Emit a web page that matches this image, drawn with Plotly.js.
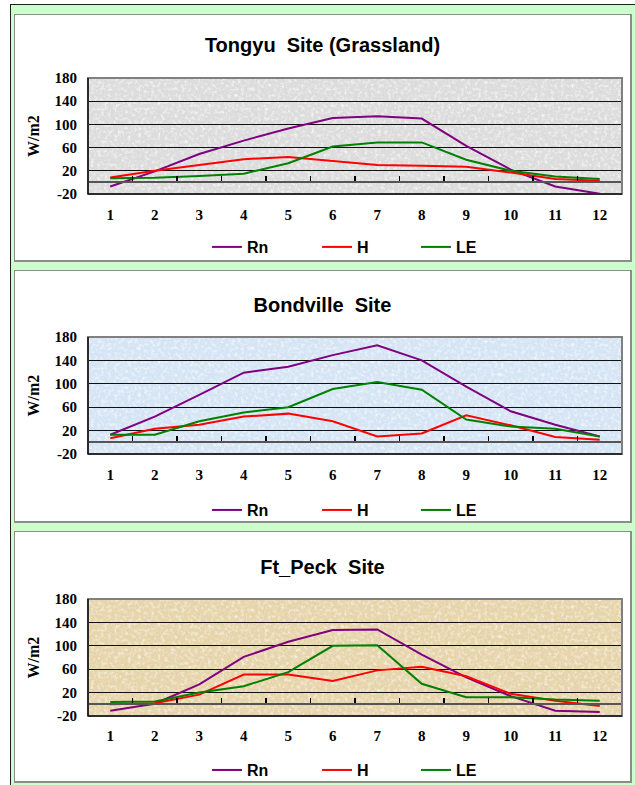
<!DOCTYPE html>
<html><head><meta charset="utf-8">
<script src="https://cdn.plot.ly/plotly-3.0.1.min.js"></script>
<style>
html,body{margin:0;padding:0;background:#fff;width:635px;height:785px;overflow:hidden;}
#frame{position:absolute;left:10px;top:4px;width:625px;height:781px;background:#ccffcc;border-left:1px solid #1e1e1e;border-top:1px solid #1e1e1e;box-sizing:border-box;}
.panel{position:absolute;left:14px;width:618px;box-sizing:border-box;background:#fff;border:1px solid #8c8c8c;border-right:2px solid #8c8c8c;border-bottom:2px solid #8c8c8c;}
.plot{position:absolute;left:0;top:0;}
</style></head><body>
<div id="frame"></div>
<div class="panel" style="top:14px;height:248px"><div class="plot" id="c1"></div></div>
<div class="panel" style="top:270px;height:253px"><div class="plot" id="c2"></div></div>
<div class="panel" style="top:531px;height:252px"><div class="plot" id="c3"></div></div>
<script>
// ---- data ----
const months = ['1','2','3','4','5','6','7','8','9','10','11','12'];
const seriesNames = ['Rn', 'H', 'LE'];
const yTicks = [-20, 20, 60, 100, 140, 180];

const tongyuTitle = 'Tongyu\u00a0\u00a0Site (Grassland)';
const tongyuRn = [-7, 19, 49, 72, 93, 111, 114, 110, 63, 22, -7, -19.5];
const tongyuH  = [8.5, 20, 30, 40, 44, 37, 30, 28.5, 27, 17, 6, 3];
const tongyuLE = [7, 8, 11, 15, 33, 62, 69, 69, 39, 20, 10, 6];

const bondTitle = 'Bondville\u00a0\u00a0Site';
const bondRn = [13, 44, 81, 119, 129, 149, 166, 140, 95, 53, 30, 10];
const bondH  = [7, 23, 30, 44, 49, 36, 10, 15, 46, 29, 9, 4.5];
const bondLE = [13, 13, 36, 51, 60, 91, 103, 90, 39, 27, 23, 10];

const peckTitle = 'Ft_Peck\u00a0\u00a0Site';
const peckRn = [-11, 1, 34, 81, 107, 127, 128, 85, 46, 14, -11, -13];
const peckH  = [0, 2, 16.5, 51, 51, 40, 58, 64, 48, 18, 6, -3];
const peckLE = [4, 5, 20, 31, 55, 100, 101, 35, 12, 12, 8, 6];

// ---- style ----
const lineColors = ['#800080', '#ff0000', '#008000'];
const legendIds = ['legend', 'legend2', 'legend3'];
const legendX = [0.2228, 0.4288, 0.6142];

function texture(base, light, dark) {
  const c = h => [1,3,5].map(i => (parseInt(h.substr(i,2),16)/255).toFixed(3));
  const L = c(light), D = c(dark);
  const svg = "<svg xmlns='http://www.w3.org/2000/svg' width='534' height='117'>" +
    "<filter id='a' x='0' y='0' width='100%' height='100%'><feTurbulence type='fractalNoise' baseFrequency='0.3' numOctaves='4' seed='3'/>" +
    "<feColorMatrix type='matrix' values='0 0 0 0 " + L[0] + " 0 0 0 0 " + L[1] + " 0 0 0 0 " + L[2] + " 2.2 0 0 0 -1.0'/></filter>" +
    "<filter id='b' x='0' y='0' width='100%' height='100%'><feTurbulence type='fractalNoise' baseFrequency='0.9' numOctaves='2' seed='7'/>" +
    "<feColorMatrix type='matrix' values='0 0 0 0 " + D[0] + " 0 0 0 0 " + D[1] + " 0 0 0 0 " + D[2] + " 0 2.4 0 0 -1.15'/></filter>" +
    "<rect width='534' height='117' fill='" + base + "'/>" +
    "<rect width='534' height='117' filter='url(#a)'/>" +
    "<rect width='534' height='117' filter='url(#b)'/></svg>";
  return 'data:image/svg+xml;charset=utf-8,' + encodeURIComponent(svg);
}

const tickFont = {family: 'Liberation Serif, Times New Roman, serif', size: 15, weight: 'bold', color: '#000'};

function makeChart(id, title, rn, h, le, opt) {
  const vals = [rn, h, le];
  const traces = seriesNames.map((n, i) => ({
    type: 'scatter', mode: 'lines', name: n, x: months, y: vals[i],
    line: {color: lineColors[i], width: 2}, legend: legendIds[i], hoverinfo: 'skip'
  }));
  const layout = {
    width: 615, height: opt.H,
    margin: {l: 73, r: 8, t: opt.t, b: opt.b, pad: 0, autoexpand: false},
    paper_bgcolor: 'rgba(0,0,0,0)',
    plot_bgcolor: opt.base,
    title: {text: title, x: 0.5, xref: 'container', xanchor: 'center',
            y: 1 - opt.ty / opt.H, yref: 'container', yanchor: 'middle',
            font: {family: 'Liberation Sans, Arial, sans-serif', size: 20, weight: 'bold', color: '#000'}},
    showlegend: true,
    xaxis: {type: 'category', categoryorder: 'array', categoryarray: months, range: [-0.5, 11.5],
            tickson: 'boundaries', ticks: 'inside', ticklen: 5, tickwidth: 1.5, tickcolor: '#000',
            showline: true, linecolor: '#555', linewidth: 2, anchor: 'free', position: 0.1,
            showgrid: false, zeroline: false, tickfont: tickFont, ticklabelstandoff: opt.xs, fixedrange: true},
    yaxis: {range: [-20, 180], tickvals: yTicks, ticktext: yTicks.map(v => (v < 0 ? '-' : '') + Math.abs(v)),
            showgrid: true, gridcolor: '#111', gridwidth: 1,
            zeroline: false, showline: false, ticks: '', tickfont: tickFont, ticklabelstandoff: 10, fixedrange: true,
            title: {text: 'W/m2', font: {family: 'Liberation Serif, Times New Roman, serif', size: 16, weight: 'bold', color: '#000'}, standoff: 10}},
    images: [{source: texture(opt.base, opt.light, opt.dark), xref: 'paper', yref: 'paper', x: 0, y: 1,
              sizex: 1, sizey: 1, sizing: 'stretch', layer: 'below'}],
    shapes: [
      {type: 'rect', xref: 'paper', yref: 'paper', x0: 0, x1: 1, y0: 0, y1: 1, line: {color: '#808080', width: 2}, layer: 'above'},
      {type: 'line', xref: 'paper', yref: 'paper', x0: 0, x1: 1, y0: 0, y1: 0, line: {color: '#111', width: 1.5}, layer: 'above'},
      {type: 'line', xref: 'paper', yref: 'paper', x0: 0, x1: 0, y0: 0, y1: 1, line: {color: '#111', width: 1.5}, layer: 'above'}
    ]
  };
  legendIds.forEach((lid, i) => {
    layout[lid] = {orientation: 'h', x: legendX[i], xanchor: 'left', xref: 'paper',
                   y: opt.ly, yanchor: 'middle', yref: 'paper', bgcolor: 'rgba(0,0,0,0)', borderwidth: 0,
                   font: {family: 'Liberation Sans, Arial, sans-serif', size: 16, weight: 'bold', color: '#000'}};
  });
  Plotly.newPlot(id, traces, layout, {staticPlot: true, displayModeBar: false});
}

makeChart('c1', tongyuTitle, tongyuRn, tongyuH, tongyuLE,
  {H: 245, t: 63, b: 66, ty: 30, ly: -0.457, xs: 19, base: '#dcdcdc', light: '#f6f6f6', dark: '#b4b4b4'});
makeChart('c2', bondTitle, bondRn, bondH, bondLE,
  {H: 250, t: 66, b: 67, ty: 34, ly: -0.479, xs: 19, base: '#d4e4f4', light: '#eef6fd', dark: '#b9cfe8'});
makeChart('c3', peckTitle, peckRn, peckH, peckLE,
  {H: 249, t: 67, b: 65, ty: 35, ly: -0.462, xs: 18, base: '#e6d3a8', light: '#f4ead0', dark: '#cdb585'});
</script>
</body></html>
